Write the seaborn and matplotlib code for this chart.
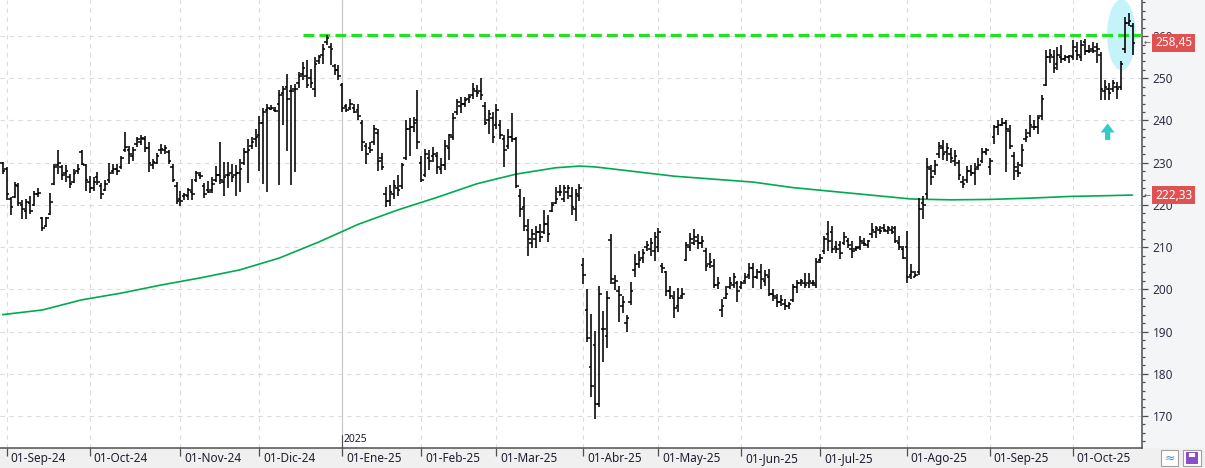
"""
Daily OHLC bar chart with 200-session moving average (Spanish stock, Sep-24 .. Oct-25)
"""

import numpy as np
import matplotlib
matplotlib.use("Agg")
import matplotlib.pyplot as plt
import matplotlib.transforms as mtransforms
from matplotlib.patches import Ellipse, Rectangle
from matplotlib.ticker import MultipleLocator
import seaborn as sns

# ---- data ----
month_labels = ["01-Sep-24", "01-Oct-24", "01-Nov-24", "01-Dic-24", "01-Ene-25", "01-Feb-25",
                "01-Mar-25", "01-Abr-25", "01-May-25", "01-Jun-25", "01-Jul-25", "01-Ago-25",
                "01-Sep-25", "01-Oct-25"]
bars_before_first_month = 1
bars_per_month = [21, 23, 20, 21, 20, 19, 22, 19, 21, 20, 22, 21, 21, 16]
year_label = "2025"
year_month = "01-Ene-25"

high = [230.2, 229.0, 221.9, 225.5, 225.3, 221.2, 221.5, 222.0, 223.2, 224.0,
        217.2, 217.1, 222.8, 229.8, 233.0, 229.4, 229.4, 227.4, 228.4, 229.8,
        232.9, 229.8, 226.8, 226.5, 227.8, 225.3, 226.0, 229.9, 229.8, 229.6,
        231.7, 237.3, 234.0, 233.8, 236.1, 236.6, 236.4, 234.8, 230.9, 232.2,
        234.4, 234.3, 233.0, 229.6, 225.5, 223.2, 222.8, 224.0, 226.1, 228.0,
        227.9, 225.1, 225.7, 226.5, 229.1, 235.0, 230.2, 230.1, 229.8, 229.4,
        230.9, 233.4, 235.6, 236.1, 238.0, 241.1, 243.0, 244.0, 243.6, 243.2,
        247.2, 248.2, 250.9, 248.5, 248.7, 251.5, 253.9, 254.3, 252.3, 255.0,
        255.6, 258.2, 260.3, 258.4, 253.5, 253.2, 249.0, 244.0, 245.2, 243.8,
        243.8, 240.1, 234.6, 235.0, 238.9, 238.1, 232.2, 224.3, 224.6, 225.8,
        227.0, 229.9, 240.1, 240.5, 240.9, 247.2, 231.7, 233.3, 232.9, 233.7,
        232.5, 231.0, 235.3, 236.9, 241.7, 245.2, 245.5, 245.6, 246.3, 248.8,
        248.4, 250.0, 244.4, 242.5, 242.1, 244.0, 240.1, 236.5, 238.1, 241.7,
        236.1, 223.8, 221.8, 216.7, 214.3, 215.1, 215.5, 218.7, 217.5, 220.6,
        224.2, 224.6, 224.6, 224.6, 224.2, 223.8, 225.0, 207.5, 200.0, 194.1,
        190.2, 200.8, 194.9, 199.6, 213.0, 203.5, 200.8, 198.4, 193.9, 201.7,
        208.3, 209.1, 209.6, 211.4, 212.2, 213.5, 214.6, 206.3, 204.3, 200.8,
        199.6, 200.2, 200.4, 211.2, 213.4, 214.2, 213.0, 212.6, 209.8, 208.7,
        207.1, 202.8, 197.8, 200.9, 202.8, 203.8, 202.0, 202.0, 203.8, 206.3,
        206.3, 204.9, 206.1, 204.6, 204.7, 200.0, 198.8, 198.6, 197.8, 196.9,
        201.2, 202.2, 202.5, 203.8, 203.9, 202.2, 207.5, 208.3, 212.6, 216.1,
        215.0, 211.4, 211.4, 213.5, 212.2, 211.4, 210.2, 212.6, 212.2, 211.8,
        215.7, 215.1, 215.1, 215.4, 215.1, 215.0, 215.0, 212.6, 210.2, 213.8,
        205.9, 204.3, 221.7, 222.0, 231.1, 229.5, 230.6, 235.0, 235.3, 234.6,
        233.5, 233.1, 230.7, 226.8, 229.1, 229.5, 229.9, 231.1, 233.5, 233.5,
        231.1, 239.0, 240.2, 240.5, 240.1, 238.9, 232.5, 230.2, 234.5, 238.1,
        241.3, 240.1, 241.3, 246.0, 256.7, 256.9, 256.7, 257.5, 257.9, 255.6,
        255.6, 259.1, 258.5, 259.1, 259.3, 257.9, 258.5, 258.3, 256.3, 249.6,
        248.8, 249.6, 249.2, 254.0, 264.5, 265.5, 263.1]

low = [227.4, 221.1, 217.5, 221.6, 219.7, 216.7, 216.7, 217.8, 219.8, 221.9,
       213.9, 214.7, 217.5, 224.7, 227.4, 226.0, 225.5, 224.0, 225.1, 227.3,
       229.4, 223.2, 222.9, 223.2, 224.7, 221.5, 223.4, 225.1, 227.3, 227.2,
       228.6, 232.5, 229.8, 230.4, 233.8, 234.3, 232.5, 227.8, 228.6, 229.8,
       232.1, 232.1, 229.6, 225.5, 220.1, 219.7, 221.2, 221.2, 221.2, 225.5,
       226.1, 221.6, 222.8, 222.8, 225.5, 224.9, 222.0, 223.9, 225.5, 222.0,
       223.1, 229.4, 225.1, 233.2, 233.8, 228.0, 224.9, 223.1, 242.4, 241.9,
       224.7, 238.9, 232.8, 224.7, 227.9, 247.7, 249.5, 247.7, 247.6, 245.6,
       253.5, 253.5, 257.8, 253.1, 250.7, 249.5, 241.9, 241.9, 242.4, 241.7,
       240.1, 232.8, 229.6, 232.4, 234.3, 228.0, 228.3, 219.4, 219.8, 221.4,
       222.2, 223.8, 230.6, 231.7, 237.3, 233.3, 225.4, 226.6, 228.2, 230.2,
       227.4, 227.4, 228.2, 230.6, 235.3, 241.3, 241.8, 243.3, 244.2, 245.0,
       245.5, 244.8, 238.9, 236.9, 234.7, 238.1, 235.7, 229.0, 233.3, 234.9,
       224.0, 217.1, 213.9, 207.9, 209.9, 209.9, 211.1, 213.1, 211.1, 218.3,
       220.2, 222.2, 220.6, 221.4, 217.5, 216.3, 221.0, 201.2, 187.4, 174.6,
       169.3, 172.0, 182.8, 186.2, 201.2, 199.8, 192.3, 194.3, 189.8, 196.2,
       202.8, 205.1, 206.3, 209.1, 208.0, 206.7, 208.8, 203.9, 198.3, 197.6,
       193.3, 194.6, 197.8, 206.7, 209.1, 210.4, 209.6, 209.8, 204.3, 205.1,
       200.4, 200.0, 193.5, 197.6, 200.0, 200.4, 196.9, 200.0, 201.2, 202.4,
       200.4, 202.4, 200.0, 200.8, 198.4, 197.2, 195.7, 196.1, 195.1, 195.3,
       196.9, 199.1, 200.8, 200.2, 200.4, 200.8, 200.4, 206.3, 208.3, 209.1,
       208.7, 208.7, 207.2, 210.4, 209.8, 207.5, 209.1, 209.4, 210.2, 209.8,
       212.2, 212.2, 213.0, 213.5, 213.2, 213.0, 211.0, 209.4, 207.2, 201.6,
       202.4, 202.8, 203.5, 216.7, 221.3, 224.8, 227.2, 231.1, 230.7, 230.3,
       229.9, 229.1, 226.0, 224.0, 225.2, 226.8, 224.8, 228.3, 229.9, 231.9,
       227.2, 234.5, 236.6, 238.7, 227.8, 233.3, 225.8, 226.6, 229.0, 234.9,
       236.1, 237.7, 236.9, 240.1, 248.2, 253.6, 251.2, 252.0, 253.6, 254.0,
       253.6, 254.4, 254.4, 254.0, 255.6, 256.0, 256.0, 253.6, 244.8, 244.8,
       244.8, 246.8, 245.2, 247.2, 256.0, 262.3, 255.6]

open_ = [229.9, 228.5, 221.5, 221.8, 224.5, 220.0, 218.5, 220.5, 220.0, 222.5,
         216.8, 215.0, 217.8, 225.0, 229.5, 229.0, 227.5, 226.5, 225.5, 228.0,
         232.5, 229.5, 225.5, 224.0, 226.5, 224.5, 223.5, 226.0, 228.0, 228.5,
         229.0, 233.0, 233.0, 231.5, 234.5, 235.0, 235.5, 233.5, 229.5, 230.0,
         233.0, 233.0, 232.5, 229.0, 224.5, 221.5, 222.0, 222.0, 223.0, 226.0,
         227.0, 224.5, 223.5, 223.5, 226.0, 227.0, 225.5, 227.0, 227.5, 227.0,
         227.5, 230.0, 232.5, 234.0, 235.5, 236.5, 239.5, 242.5, 242.8, 242.5,
         244.0, 246.5, 248.0, 247.0, 247.5, 249.0, 251.0, 250.5, 250.0, 247.5,
         254.0, 255.5, 258.5, 257.5, 253.0, 252.0, 248.5, 243.5, 243.0, 243.0,
         242.5, 239.5, 234.0, 233.5, 235.0, 237.0, 231.0, 222.5, 221.0, 222.5,
         224.0, 224.5, 231.0, 238.0, 238.5, 240.0, 230.0, 227.0, 231.0, 231.5,
         231.5, 228.5, 229.5, 233.5, 236.0, 242.0, 243.5, 244.0, 245.0, 246.0,
         247.0, 247.0, 243.5, 240.0, 240.5, 239.0, 239.0, 235.5, 234.0, 236.0,
         235.5, 222.0, 219.5, 214.0, 211.0, 212.0, 213.5, 213.5, 215.5, 218.5,
         220.5, 223.0, 221.5, 223.0, 222.0, 219.0, 222.0, 205.7, 195.0, 181.5,
         186.8, 172.8, 190.5, 189.0, 211.6, 201.5, 199.5, 196.0, 192.0, 197.0,
         204.5, 206.0, 207.5, 210.0, 209.5, 209.0, 210.0, 205.5, 204.0, 199.5,
         198.0, 196.0, 198.5, 207.0, 210.0, 211.0, 211.5, 211.0, 209.0, 206.0,
         205.5, 201.0, 195.0, 198.0, 200.5, 201.0, 201.5, 200.5, 202.0, 203.5,
         205.0, 203.0, 204.0, 202.0, 203.0, 199.0, 198.0, 197.0, 196.5, 196.0,
         197.5, 200.5, 201.5, 201.5, 201.5, 201.5, 201.0, 207.0, 209.0, 213.0,
         213.5, 210.0, 210.5, 211.0, 211.5, 209.5, 209.5, 210.0, 211.0, 210.5,
         213.0, 213.5, 214.0, 214.5, 213.8, 214.0, 214.5, 211.0, 209.5, 210.0,
         203.5, 203.0, 204.0, 220.5, 222.5, 228.5, 228.0, 232.0, 233.5, 232.5,
         232.0, 230.5, 230.0, 225.5, 226.0, 228.0, 227.5, 229.0, 230.5, 232.5,
         229.0, 236.0, 238.5, 239.0, 239.5, 237.5, 231.5, 228.0, 229.5, 235.5,
         237.0, 238.5, 238.5, 241.0, 248.5, 255.0, 255.0, 253.5, 255.0, 254.5,
         255.0, 255.0, 256.5, 255.0, 258.5, 256.5, 257.0, 257.5, 255.5, 247.0,
         247.5, 247.5, 248.0, 248.0, 257.0, 263.0, 262.5]

close = [228.0, 222.5, 219.5, 224.8, 220.5, 219.0, 220.8, 218.5, 222.5, 222.8,
         214.5, 216.8, 220.8, 229.0, 230.0, 227.0, 228.0, 225.0, 227.5, 228.5,
         229.8, 226.0, 224.0, 225.5, 225.5, 222.5, 225.0, 227.5, 228.5, 228.0,
         231.0, 233.8, 232.0, 233.0, 235.5, 235.8, 233.5, 230.0, 230.2, 231.5,
         233.3, 233.5, 230.5, 225.8, 221.0, 221.0, 222.3, 223.5, 222.5, 227.5,
         226.8, 222.5, 223.0, 225.0, 227.0, 226.0, 226.5, 227.0, 226.5, 227.5,
         228.5, 232.5, 233.0, 235.0, 236.0, 239.5, 242.0, 243.0, 243.0, 242.2,
         246.0, 247.5, 245.0, 247.0, 247.5, 250.5, 252.5, 248.5, 249.0, 253.5,
         255.0, 257.0, 259.5, 257.0, 252.0, 250.5, 243.0, 242.5, 244.0, 242.0,
         241.0, 235.0, 232.0, 233.0, 238.0, 230.5, 229.0, 221.0, 223.0, 224.5,
         223.5, 229.5, 238.0, 238.5, 239.5, 235.0, 226.0, 232.0, 230.5, 232.0,
         229.0, 229.5, 234.0, 236.5, 240.5, 244.5, 244.0, 244.8, 245.5, 247.5,
         246.5, 246.0, 239.5, 241.5, 236.0, 242.5, 236.5, 233.0, 236.0, 235.5,
         224.5, 219.0, 215.0, 212.0, 213.0, 213.5, 212.5, 215.5, 213.0, 220.0,
         221.5, 223.0, 224.0, 224.0, 219.5, 222.5, 224.0, 203.3, 188.4, 177.0,
         172.8, 198.8, 190.7, 198.0, 202.5, 202.0, 198.6, 197.0, 193.1, 199.6,
         206.0, 207.0, 208.5, 210.5, 211.0, 212.5, 213.5, 205.0, 199.5, 198.5,
         195.5, 198.0, 199.0, 210.5, 212.0, 212.5, 211.0, 211.5, 205.5, 206.5,
         201.0, 201.5, 196.0, 199.0, 201.5, 203.0, 199.5, 201.5, 203.0, 205.0,
         203.0, 204.0, 202.5, 203.5, 199.0, 198.5, 197.0, 197.5, 196.0, 196.5,
         200.5, 201.5, 202.0, 201.0, 202.0, 201.5, 206.5, 207.5, 212.0, 211.5,
         209.5, 209.5, 208.5, 212.5, 210.5, 209.0, 209.8, 211.5, 210.8, 211.5,
         214.0, 214.5, 213.8, 214.0, 214.5, 213.5, 211.5, 210.0, 207.5, 203.0,
         204.0, 203.5, 219.0, 220.0, 229.0, 226.5, 229.5, 234.0, 232.0, 233.5,
         231.0, 231.5, 227.0, 225.0, 228.0, 227.5, 228.5, 229.5, 232.5, 233.0,
         230.5, 238.5, 239.0, 239.5, 238.0, 234.0, 229.0, 227.5, 233.0, 236.0,
         239.0, 238.5, 240.5, 245.0, 255.0, 255.5, 252.5, 255.5, 254.5, 255.0,
         255.2, 257.5, 255.5, 258.0, 256.5, 256.5, 256.5, 257.0, 247.5, 248.0,
         246.5, 249.0, 247.5, 253.5, 263.0, 263.5, 258.45]

# 200-session moving average, read every 10 bars
ma_bar = [0, 10, 20, 30, 40, 50, 60, 70, 80, 90, 100, 110, 120, 130, 140, 146, 150,
          160, 170, 180, 190, 200, 210, 220, 230, 240, 250, 260, 270, 280, 286]
ma_value = [194.0, 195.1, 197.5, 199.1, 201.0, 202.7, 204.6, 207.4, 211.2, 215.4,
            218.8, 221.8, 225.0, 227.3, 228.8, 229.2, 229.0, 227.9, 226.8, 226.1, 225.4,
            224.1, 223.2, 222.3, 221.4, 221.2, 221.3, 221.6, 222.0, 222.2, 222.33]

# resistance drawn by the user, and highlight markers
resistance_level = 260.2
resistance_from_bar = 76
highlight_bar = 283.2
highlight_price = 260.3
arrow_bar = 279.7
arrow_from, arrow_to = 235.4, 239.3


def main():
    W, H = 1205, 468
    sns.set_style("white")
    plt.rcParams["font.family"] = ["Noto Sans", "DejaVu Sans"]

    fig = plt.figure(figsize=(W / 100, H / 100), dpi=100, facecolor="#f0f0f0")
    # light panel behind the price scale (kept under the axes)
    fig.patches.append(Rectangle((1143 / W, 20 / H), (W - 1143) / W, 1 - 20 / H,
                                 transform=fig.transFigure, facecolor="#f4f5f7",
                                 edgecolor="none", zorder=-5))
    ax = fig.add_axes([0, 20 / H, 1142 / W, 448 / H])
    ax.set_facecolor("white")

    n = len(high)
    idx = np.arange(n)
    month_start = bars_before_first_month + np.concatenate([[0], np.cumsum(bars_per_month)[:-1]])
    year_pos = month_start[month_labels.index(year_month)]

    # grid
    for p in range(170, 270, 10):
        ax.axhline(p, color="#dcdcdc", lw=0.8, ls=(0, (4, 4)), zorder=0)
    for m in month_start:
        if m == year_pos:
            ax.axvline(m, color="#c8c8c8", lw=0.9, zorder=0)
        else:
            ax.axvline(m, color="#dcdcdc", lw=0.8, ls=(0, (4, 4)), zorder=0)

    # highlight ellipse
    ax.add_patch(Ellipse((highlight_bar, highlight_price), 7.3, 16.8,
                         facecolor="#c6f3fa", edgecolor="none", zorder=1))

    # moving average
    sns.lineplot(x=ma_bar, y=ma_value, color="#00aa4f", linewidth=1.2, ax=ax, zorder=2)

    # resistance line
    ax.hlines(resistance_level, resistance_from_bar, n + 2, color="#22e022",
              lw=2.3, linestyles=(0, (3.4, 1.6)), zorder=3)

    # OHLC bars
    ax.vlines(idx, low, high, color="black", lw=1.15, zorder=4)
    ax.hlines(open_, idx - 0.65, idx, color="black", lw=1.1, zorder=4)
    ax.hlines(close, idx, idx + 0.65, color="black", lw=1.1, zorder=4)

    # arrow
    ax.annotate("", xy=(arrow_bar, arrow_to), xytext=(arrow_bar, arrow_from),
                arrowprops=dict(arrowstyle="simple,head_width=1.0,head_length=0.65,tail_width=0.38",
                                color="#36c9cc", lw=0, shrinkA=0, shrinkB=0), zorder=5)

    # axes styling
    for s in ["left", "top"]:
        ax.spines[s].set_visible(False)
    for s in ["right", "bottom"]:
        ax.spines[s].set_color("#505050")
        ax.spines[s].set_linewidth(1.1)

    ax.yaxis.tick_right()
    ax.yaxis.set_major_locator(MultipleLocator(10))
    ax.yaxis.set_minor_locator(MultipleLocator(2))
    ax.tick_params(axis="y", which="major", right=True, length=4.5, width=0.9, color="#505050",
                   labelsize=8.5, labelcolor="#2e2e44", pad=3)
    ax.tick_params(axis="y", which="minor", right=True, length=2.3, width=0.9, color="#505050")
    ax.set_yticks(range(170, 270, 10))

    ax.set_xticks(month_start)
    ax.set_xticklabels(month_labels)
    ax.tick_params(axis="x", bottom=True, length=6, width=0.9, color="#505050", labelsize=8.5,
                   labelcolor="#1e1e30", pad=-3)
    shift = mtransforms.ScaledTranslation(2.5 / 72, 0, fig.dpi_scale_trans)
    for lab in ax.get_xticklabels():
        lab.set_horizontalalignment("left")
        lab.set_transform(lab.get_transform() + shift)

    ax.set_xlim(-0.68, 288.4)
    ax.set_ylim(162.4, 268.55)

    # year marker
    trans = mtransforms.blended_transform_factory(ax.transData, ax.transAxes)
    ax.plot([year_pos, year_pos], [0, 0.03], color="#505050", lw=0.8, transform=trans, zorder=5)
    ax.text(year_pos + 0.4, 0.018, year_label, transform=trans, fontsize=7.5,
            color="#1e1e30", ha="left", va="center")

    # value labels on the price scale
    for val in [close[-1], ma_value[-1]]:
        ax.annotate("←", xy=(1, val), xycoords=("axes fraction", "data"),
                    xytext=(1.0, 0), textcoords="offset points", fontsize=6,
                    color="#606060", ha="left", va="center", annotation_clip=False)
        ax.annotate(f"{val:.2f}".replace(".", ","), xy=(1, val), xycoords=("axes fraction", "data"),
                    xytext=(9.3, 0), textcoords="offset points", fontsize=8.5,
                    color="white", ha="left", va="center", annotation_clip=False,
                    bbox=dict(boxstyle="square,pad=0.22", facecolor="#e05252", edgecolor="none"),
                    zorder=6)

    # small toolbar buttons at bottom right
    fig.patches.append(Rectangle((1161 / W, 2 / H), 17 / W, 16 / H, transform=fig.transFigure,
                                 facecolor="white", edgecolor="#a0a0a0", lw=0.8))
    fig.text(1169.5 / W, 10 / H, "≈", color="#4a8fd6", fontsize=9, ha="center", va="center")
    fig.patches.append(Rectangle((1183 / W, 2 / H), 18 / W, 16 / H, transform=fig.transFigure,
                                 facecolor="white", edgecolor="#a0a0a0", lw=0.8))
    fig.patches.append(Rectangle((1186 / W, 4 / H), 12 / W, 12 / H, transform=fig.transFigure,
                                 facecolor="#8a4fc8", edgecolor="none"))
    fig.patches.append(Rectangle((1189 / W, 11 / H), 6 / W, 4 / H, transform=fig.transFigure,
                                 facecolor="white", edgecolor="none"))

    fig.savefig("out.png", dpi=100, facecolor=fig.get_facecolor())


if __name__ == "__main__":
    main()
